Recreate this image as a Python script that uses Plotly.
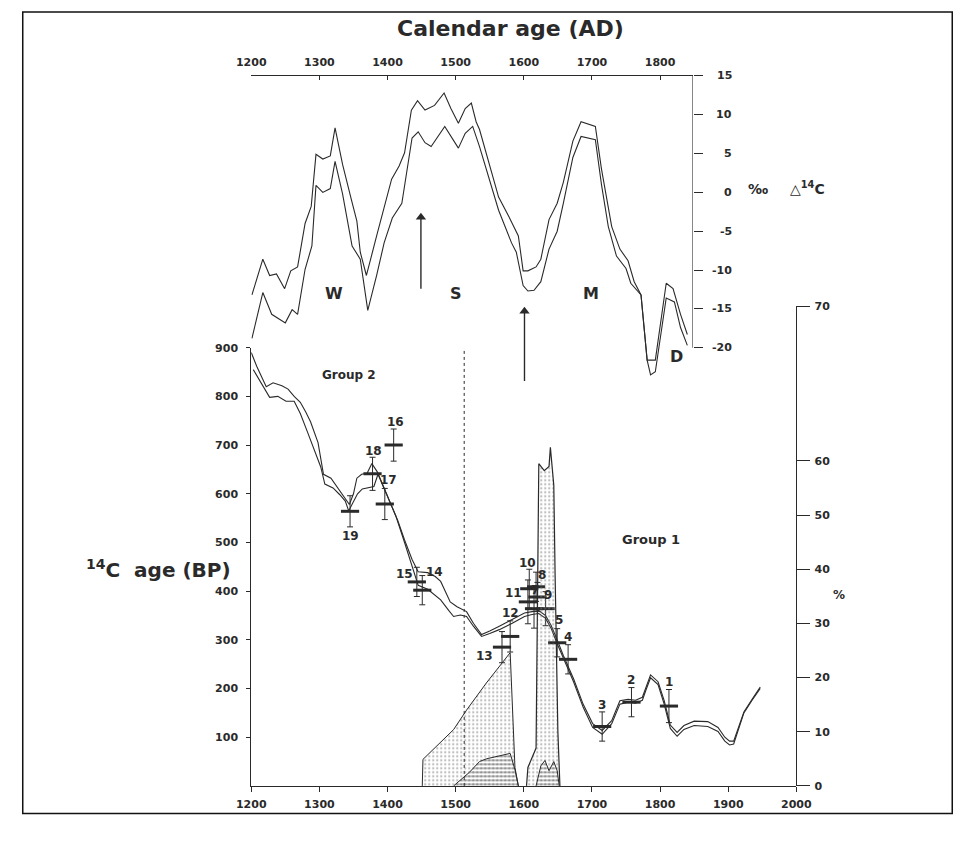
import plotly.graph_objects as go

W, H = 976, 852

# ---------------- data ----------------
# top panel: delta 14C (per mil), two bounding curves
top_year_hi = [1201, 1217, 1227, 1237, 1249, 1258, 1268, 1279, 1288, 1295, 1305, 1316, 1323, 1334,
               1346, 1355, 1360, 1369, 1384, 1395, 1406, 1417, 1425, 1435, 1444, 1455, 1469, 1483,
               1493, 1504, 1514, 1523, 1530, 1535, 1549, 1563, 1578, 1592, 1599, 1606, 1618, 1625,
               1637, 1649, 1658, 1672, 1684, 1705, 1714, 1729, 1741, 1753, 1762, 1772, 1781, 1793,
               1809, 1819, 1830, 1840]
top_d14c_hi = [-13.2, -8.6, -10.7, -10.5, -12.4, -10.1, -9.6, -4.0, -1.8, 4.9, 4.3, 4.7, 8.3, 3.6,
               -0.6, -3.7, -7.7, -10.7, -5.6, -1.8, 1.7, 3.4, 5.1, 10.6, 11.8, 10.6, 11.2, 12.8,
               10.8, 8.9, 10.8, 11.5, 9.1, 8.1, 3.6, -0.6, -3.1, -5.6, -10.1, -10.1, -9.6, -8.6,
               -3.5, -1.4, 1.3, 6.6, 9.1, 8.5, 3.0, -4.4, -7.3, -8.8, -11.5, -13.2, -21.6, -21.6,
               -11.7, -12.4, -15.7, -18.3]
top_year_lo = [1201, 1217, 1230, 1250, 1260, 1268, 1279, 1289, 1295, 1305, 1316, 1323, 1334, 1348,
               1360, 1371, 1384, 1395, 1407, 1421, 1436, 1445, 1455, 1464, 1484, 1495, 1504, 1514,
               1525, 1535, 1549, 1563, 1582, 1589, 1599, 1606, 1615, 1625, 1637, 1649, 1658, 1672,
               1684, 1705, 1714, 1724, 1736, 1750, 1757, 1772, 1781, 1786, 1793, 1809, 1821, 1830, 1840]
top_d14c_lo = [-18.8, -12.9, -15.7, -16.8, -15.1, -15.7, -9.9, -6.9, 0.9, 0.0, 0.5, 4.0, -0.2, -6.9,
               -8.6, -15.2, -10.7, -6.5, -3.3, -1.4, 7.0, 7.8, 6.4, 5.9, 8.5, 7.0, 5.7, 7.6,
               8.5, 5.9, 1.7, -2.3, -6.5, -7.7, -12.0, -12.7, -12.6, -11.5, -7.3, -5.0, -1.4, 4.5,
               7.2, 6.8, 1.0, -4.4, -8.2, -9.8, -11.7, -13.2, -21.6, -23.5, -23.1, -13.6, -14.1,
               -17.4, -19.7]
period_names = ["W", "S", "M", "D"]
period_year = [1322, 1500, 1699, 1824]
period_d14c = [-13.0, -13.0, -13.0, -21.1]

# bottom panel: calibration curve (14C age BP), two bounding curves
cal_year_a = [1200, 1208, 1222, 1232, 1245, 1254, 1263, 1272, 1280, 1287, 1298, 1306, 1317, 1328,
              1336, 1344, 1350, 1355, 1362, 1370, 1377, 1385, 1395, 1405, 1415, 1425, 1436, 1445,
              1459, 1470, 1478, 1492, 1502, 1516, 1526, 1538, 1550, 1564, 1583, 1601, 1612, 1622,
              1632, 1640, 1649, 1658, 1673, 1687, 1701, 1715, 1729, 1741, 1753, 1764, 1774, 1779,
              1786, 1797, 1806, 1815, 1825, 1835, 1850, 1870, 1885, 1895, 1902, 1908, 1923, 1935, 1947]
cal_bp_a = [890, 862, 820, 828, 822, 815, 800, 788, 768, 748, 705, 640, 632, 610,
            594, 578, 600, 632, 640, 642, 662, 645, 612, 580, 545, 505, 465, 440,
            438, 430, 420, 378, 368, 358, 334, 311, 318, 328, 341, 355, 358, 360,
            350, 330, 300, 268, 220, 168, 128, 114, 134, 175, 178, 176, 182, 202,
            228, 214, 175, 125, 110, 124, 133, 132, 120, 100, 92, 92, 152, 178, 203]
cal_year_b = [1203, 1215, 1227, 1239, 1251, 1263, 1272, 1283, 1294, 1302, 1308, 1320, 1330, 1338,
              1343, 1350, 1356, 1363, 1372, 1380, 1386, 1393, 1402, 1412, 1425, 1436, 1445, 1459,
              1470, 1478, 1490, 1497, 1507, 1516, 1526, 1538, 1550, 1564, 1583, 1601, 1612, 1622,
              1632, 1640, 1649, 1658, 1673, 1687, 1701, 1715, 1729, 1741, 1753, 1764, 1774, 1779,
              1786, 1797, 1806, 1815, 1825, 1835, 1850, 1870, 1885, 1895, 1902, 1908, 1923, 1935, 1947]
cal_bp_b = [855, 825, 798, 800, 790, 790, 765, 725, 685, 655, 620, 612, 598, 585,
            565, 585, 600, 610, 612, 615, 640, 618, 588, 555, 500, 450, 412, 404,
            392, 382, 360, 348, 351, 348, 328, 307, 313, 321, 334, 348, 352, 354,
            344, 324, 292, 262, 214, 162, 120, 106, 128, 168, 172, 170, 176, 196,
            222, 208, 168, 118, 102, 116, 124, 122, 112, 92, 84, 86, 150, 176, 200]

# dated samples
sample_id = [1, 2, 3, 4, 5, 6, 7, 8, 9, 10, 11, 12, 13, 14, 15, 16, 17, 18, 19]
sample_year = [1813, 1758, 1715, 1665, 1649, 1615, 1620, 1618, 1632, 1608, 1606, 1580, 1568,
               1451, 1443, 1409, 1396, 1378, 1345]
sample_bp = [164, 172, 122, 260, 294, 364, 388, 409, 364, 405, 378, 307, 285,
             402, 419, 700, 579, 641, 564]
sample_err = [34, 30, 30, 30, 29, 40, 30, 30, 35, 40, 45, 32, 32,
              30, 30, 33, 32, 34, 32]
sample_label = ["1", "2", "3", "4", "5", "", "7", "8", "9", "10", "11", "12", "13",
                "14", "15", "16", "17", "18", "19"]

# probability distributions (%)
stip1_year = [1451, 1452, 1497, 1516, 1545, 1564, 1580, 1587, 1592]
stip1_pct = [0, 4.9, 10.4, 14.0, 19.0, 22.0, 24.6, 3.4, 0]
hatch1_year = [1497, 1520, 1535, 1545, 1580, 1587, 1592]
hatch1_pct = [0, 2.5, 4.5, 5.0, 6.0, 3.0, 0]
spike_year = [1604, 1606, 1618, 1620, 1622, 1630, 1637, 1639, 1644, 1646, 1650, 1653]
spike_pct = [0, 3.4, 7.0, 30.0, 59.5, 58.2, 59.0, 62.5, 55.5, 38.5, 10.0, 0]
hatch2_year = [1618, 1625, 1631, 1637, 1644, 1649, 1652]
hatch2_pct = [0, 3.7, 4.7, 2.8, 4.5, 2.8, 0]

boundary_year = 1512.5
arrow_years = [1449, 1601]
arrow_head = [-3.2, -15.3]
arrow_tail = [-12.4, -24.3]

top_ticks = [-20, -15, -10, -5, 0, 5, 10, 15]
pct_ticks = [0, 10, 20, 30, 40, 50, 60]

# ---------------- layout geometry (pixels) ----------------
def fx(p):
    return p / W

def fy(p):
    return 1 - p / H

X0, X1 = 244, 807          # bottom x axis 1200..2000
XT1 = 700                  # end of top axis
PX_PER_YR = (X1 - X0) / 800.0
TOP_X_MAX = 1200 + (XT1 - X0) / PX_PER_YR
TOP_Y15, TOP_Y20 = 71, 347
TOP_PX_PER = (TOP_Y20 - TOP_Y15) / 35.0
TOP_BOTTOM = 382
TOP_Y_MIN = -20 - (TOP_BOTTOM - TOP_Y20) / TOP_PX_PER
BOT_Y0, BOT_YTOP = 792, 347
PCT_TOP = 305
PCT_PX = (BOT_Y0 - 462) / 60.0
PCT_MAX = (BOT_Y0 - PCT_TOP) / PCT_PX

INK = "#2a2a2a"
FONT = "DejaVu Sans"

def bold(size):
    return dict(family=FONT, size=size, color=INK, weight=700)

fig = go.Figure()

# probability areas
dots = dict(shape=".", fgcolor="#777", bgcolor="rgba(0,0,0,0)", size=4, solidity=0.25)
lines_h = dict(shape="-", fgcolor="#222", bgcolor="rgba(0,0,0,0)", size=4, solidity=0.3)
fig.add_trace(go.Scatter(x=stip1_year, y=stip1_pct, xaxis="x", yaxis="y3", mode="lines",
                         fill="toself", line=dict(color=INK, width=1),
                         fillcolor="rgba(0,0,0,0)", fillpattern=dots))
fig.add_trace(go.Scatter(x=spike_year, y=spike_pct, xaxis="x", yaxis="y3", mode="lines",
                         fill="toself", line=dict(color=INK, width=1.2),
                         fillcolor="rgba(0,0,0,0)", fillpattern=dots))
for xs, ys in [(hatch1_year, hatch1_pct), (hatch2_year, hatch2_pct)]:
    fig.add_trace(go.Scatter(x=xs, y=ys, xaxis="x", yaxis="y3", mode="lines",
                             fill="toself", line=dict(color=INK, width=1),
                             fillcolor="rgba(0,0,0,0)", fillpattern=lines_h))

# calibration curves
fig.add_trace(go.Scatter(x=cal_year_a, y=cal_bp_a, xaxis="x", yaxis="y", mode="lines",
                         line=dict(color=INK, width=1.1)))
fig.add_trace(go.Scatter(x=cal_year_b, y=cal_bp_b, xaxis="x", yaxis="y", mode="lines",
                         line=dict(color=INK, width=1.1)))

# samples
fig.add_trace(go.Scatter(x=sample_year, y=sample_bp, xaxis="x", yaxis="y", mode="markers",
                         marker=dict(symbol="line-ew", size=13, color=INK,
                                     line=dict(color=INK, width=3)),
                         error_y=dict(type="data", array=sample_err, visible=True,
                                      color=INK, thickness=1, width=3)))

# top curves
fig.add_trace(go.Scatter(x=top_year_hi, y=top_d14c_hi, xaxis="x2", yaxis="y2", mode="lines",
                         line=dict(color=INK, width=1.1)))
fig.add_trace(go.Scatter(x=top_year_lo, y=top_d14c_lo, xaxis="x2", yaxis="y2", mode="lines",
                         line=dict(color=INK, width=1.1)))

# arrow heads
fig.add_trace(go.Scatter(x=arrow_years, y=arrow_head, xaxis="x2", yaxis="y2", mode="markers",
                         marker=dict(symbol="triangle-up", size=9, color=INK)))

tickfont = bold(11)

fig.update_layout(
    width=W, height=H, autosize=False,
    margin=dict(l=0, r=0, t=0, b=0, pad=0),
    paper_bgcolor="white", plot_bgcolor="rgba(0,0,0,0)",
    showlegend=False,
    xaxis=dict(domain=[fx(X0), fx(X1)], range=[1200, 2000], anchor="y",
               tickvals=list(range(1200, 2001, 100)), ticks="outside", ticklen=5,
               tickcolor=INK, showline=True, linecolor=INK, linewidth=1,
               showgrid=False, zeroline=False, tickfont=tickfont, ticklabelstandoff=3),
    yaxis=dict(domain=[fy(BOT_Y0), fy(BOT_YTOP)], range=[0, 900], anchor="x",
               tickvals=list(range(100, 901, 100)), ticks="outside", ticklen=4,
               tickcolor=INK, showline=True, linecolor=INK, linewidth=1,
               showgrid=False, zeroline=False, tickfont=tickfont, ticklabelstandoff=6),
    yaxis3=dict(domain=[fy(BOT_Y0), fy(PCT_TOP)], range=[0, PCT_MAX], anchor="x", side="right",
                tickvals=pct_ticks + [PCT_MAX], ticktext=[str(v) for v in pct_ticks] + ["70"],
                ticks="outside", ticklen=13, tickcolor=INK, showline=True, linecolor=INK,
                linewidth=1, showgrid=False, zeroline=False, tickfont=tickfont,
                ticklabelstandoff=2),
    xaxis2=dict(domain=[fx(X0), fx(XT1)], range=[1200, TOP_X_MAX], anchor="y2", side="top",
                tickvals=list(range(1200, 1801, 100)), ticks="inside", ticklen=4,
                tickcolor=INK, showline=True, linecolor=INK, linewidth=1,
                showgrid=False, zeroline=False, tickfont=tickfont, ticklabelstandoff=5),
    yaxis2=dict(domain=[fy(TOP_BOTTOM), fy(TOP_Y15)], range=[TOP_Y_MIN, 15], anchor="x2",
                side="right", tickvals=top_ticks, ticks="outside", ticklen=9,
                tickcolor=INK, showline=False, showgrid=False, zeroline=False,
                showticklabels=False),
)

shapes = []
# top right axis line (-20 .. 15 only)
shapes.append(dict(type="line", xref="x2", yref="y2", x0=TOP_X_MAX, x1=TOP_X_MAX, y0=-20, y1=15,
                   line=dict(color=INK, width=1)))
# arrow shafts
for yr, yh, yt in zip(arrow_years, arrow_head, arrow_tail):
    shapes.append(dict(type="line", xref="x2", yref="y2", x0=yr, x1=yr, y0=yt, y1=yh,
                       line=dict(color=INK, width=1.4)))
# group boundary
shapes.append(dict(type="line", xref="x", yref="y", x0=boundary_year, x1=boundary_year,
                   y0=0, y1=900, line=dict(color=INK, width=1, dash="dot")))
# page frame
shapes.append(dict(type="rect", xref="paper", yref="paper", x0=fx(8), x1=fx(968),
                   y0=fy(820), y1=fy(6), line=dict(color="#111", width=1.5)))
fig.update_layout(shapes=shapes)

ann = []

def text(t, x, y, size, xref="paper", yref="paper", xanchor="center", **kw):
    d = dict(text=t, xref=xref, yref=yref, x=x, y=y, showarrow=False,
             xanchor=xanchor, yanchor="middle", font=bold(size))
    d.update(kw)
    ann.append(d)

text("Calendar age (AD)", fx(512), fy(23), 22)
text("‰", fx(767), fy(186), 14)
text("△<sup>14</sup>C", fx(818), fy(185), 14)
text("<sup>14</sup>C  age (BP)", fx(148), fy(572), 20)
text("%", fx(851), fy(598), 12)
text("Group 2", 1343, 843, 12, xref="x", yref="y")
text("Group 1", 1787, 506, 13, xref="x", yref="y")
# right axis labels of the top panel (right aligned as in the original)
for v in top_ticks:
    text(str(v), fx(743), v, 11, yref="y2", xanchor="right")
for name, yr, v in zip(period_names, period_year, period_d14c):
    text(name, yr, v, 16, xref="x2", yref="y2")

# sample labels (pixel offsets from marker)
label_dx = [0, 0, 0, 0, 2, 0, -2, 6, 2, -2, -14, 0, -18, 12, -12, 2, 4, 1, 0]
label_dy = [24, 22, 22, 22, 23, 0, 7, 12, 14, 26, 9, 23, -9, 18, 8, 23, 24, 23, -25]
for lab, yr, bp, dx, dy in zip(sample_label, sample_year, sample_bp, label_dx, label_dy):
    if not lab:
        continue
    text(lab, yr, bp, 12, xref="x", yref="y", xshift=dx, yshift=dy)
fig.update_layout(annotations=ann)

fig.write_html("out.html")
